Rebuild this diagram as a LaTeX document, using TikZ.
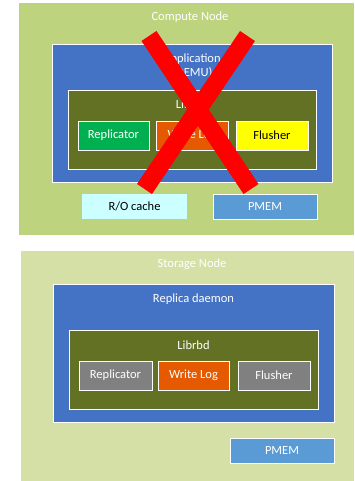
\documentclass[tikz,border=0pt]{standalone}
\usepackage{fontspec}
\setmainfont{Carlito}
\definecolor{cgreen}{RGB}{190,211,126}
\definecolor{sgreen}{RGB}{212,224,166}
\definecolor{appblue}{RGB}{68,114,196}
\definecolor{libgreen}{RGB}{99,113,37}
\definecolor{repgreen}{RGB}{0,176,80}
\definecolor{logorange}{RGB}{229,90,0}
\definecolor{flyellow}{RGB}{255,255,0}
\definecolor{boxgray}{RGB}{128,128,128}
\definecolor{rocyan}{RGB}{204,255,255}
\definecolor{pmemblue}{RGB}{91,155,213}
\definecolor{xred}{RGB}{255,0,0}
\tikzset{
  panel/.style={rectangle, inner sep=0pt, outer sep=0pt, draw=none},
  framed/.style={rectangle, inner sep=0pt, outer sep=0pt, draw=white, line width=0.8pt},
  lbl/.style={inner sep=0pt, font=\fontsize{12.5}{14}\selectfont, text=white},
  boxlbl/.style={framed, font=\fontsize{12.5}{14}\selectfont, text=white, minimum height=29pt},
  crossline/.style={draw=xred, line width=18pt, line cap=butt}
}
\begin{document}
\begin{tikzpicture}[x=1pt,y=-1pt]
\useasboundingbox (0,0) rectangle (354,481);
% Compute node
\node[panel, fill=cgreen, minimum width=335pt, minimum height=232pt] (cn) at (186.5,119) {};
\node[lbl] (cnl) at (190,17) {Compute Node};
\node[framed, fill=appblue, minimum width=280pt, minimum height=138pt] (app) at (192,113) {};
\node[lbl, align=center] (appl) at (192,66) {Application\\(QEMU)};
\node[framed, fill=libgreen, minimum width=248pt, minimum height=79pt] (lib1) at (192,129.5) {};
\node[lbl] (lib1l) at (192,104) {Librbd};
\node[boxlbl, fill=repgreen, minimum width=71pt] (rep1) at (113.5,135.5) {Replicator};
\node[boxlbl, fill=logorange, minimum width=72pt] (log1) at (192,135.5) {Write Log};
\node[boxlbl, fill=flyellow, text=black, minimum width=72pt] (fl1) at (272,135.5) {Flusher};
\node[panel, fill=rocyan, text=black, font=\fontsize{12.5}{14}\selectfont, minimum width=105pt, minimum height=25pt] (ro) at (134.5,206.5) {R/O cache};
\node[framed, fill=pmemblue, text=white, font=\fontsize{12.5}{14}\selectfont, minimum width=104pt, minimum height=25pt] (pm1) at (265,206.5) {PMEM};
% Red cross
\coordinate (xa) at (149,36);
\coordinate (xb) at (251,189);
\coordinate (xc) at (247.5,36);
\coordinate (xd) at (144.5,189);
\draw[crossline] (xa) -- (xb);
\draw[crossline] (xc) -- (xd);
% Storage node
\node[panel, fill=sgreen, minimum width=333pt, minimum height=230pt] (sn) at (187.5,366) {};
\node[lbl] (snl) at (192,264) {Storage Node};
\node[framed, fill=appblue, minimum width=281pt, minimum height=138pt] (rd) at (193.5,353) {};
\node[lbl] (rdl) at (193.5,299) {Replica daemon};
\node[framed, fill=libgreen, minimum width=249pt, minimum height=79pt] (lib2) at (193.5,369.5) {};
\node[lbl] (lib2l) at (193.5,345) {Librbd};
\node[boxlbl, fill=boxgray, minimum width=73pt] (rep2) at (115.5,375.5) {Replicator};
\node[boxlbl, fill=logorange, minimum width=71pt] (log2) at (193.5,375.5) {Write Log};
\node[boxlbl, fill=boxgray, minimum width=72pt] (fl2) at (274,375.5) {Flusher};
\node[framed, fill=pmemblue, text=white, font=\fontsize{12.5}{14}\selectfont, minimum width=104pt, minimum height=25pt] (pm2) at (282,450.5) {PMEM};
\end{tikzpicture}
\end{document}
